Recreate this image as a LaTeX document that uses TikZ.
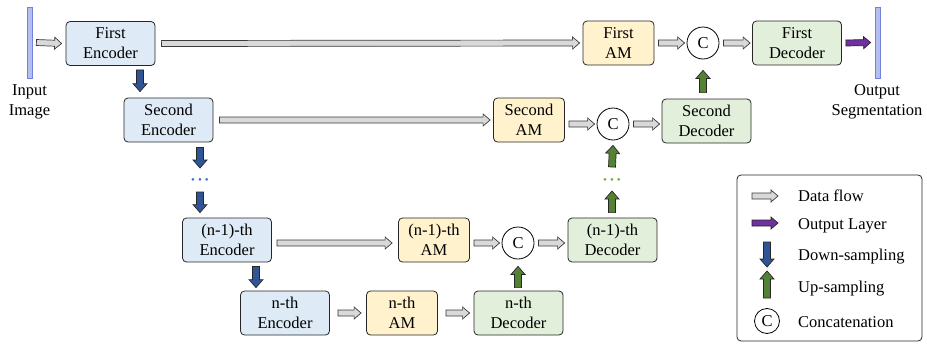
\documentclass[tikz,border=0pt]{standalone}
\usepackage{fontspec}
\setmainfont{Liberation Serif}
\usetikzlibrary{calc}
\definecolor{encfill}{HTML}{DEEBF7}
\definecolor{amfill}{HTML}{FFF2CC}
\definecolor{decfill}{HTML}{E2EFDA}
\definecolor{boxline}{HTML}{262626}
\definecolor{flowfill}{HTML}{D9D9D9}
\definecolor{flowline}{HTML}{3A3A3A}
\definecolor{downfill}{HTML}{2F5597}
\definecolor{upfill}{HTML}{548235}
\definecolor{outfill}{HTML}{7030A0}
\definecolor{barfill}{HTML}{B4BEF0}
\definecolor{barline}{HTML}{7282DA}
\definecolor{dotblue}{HTML}{4472C4}
\definecolor{dotgreen}{HTML}{70AD47}
\newcommand{\mainfs}{\fontsize{16.5}{20}\selectfont}
\newcommand{\threedots}{•\hspace{3pt}•\hspace{3pt}•}
\tikzset{
  shaftw/.store in=\shaftw, headw/.store in=\headw, headl/.store in=\headl,
  shaftw=3pt, headw=6pt, headl=7pt,
  block arrow/.style={to path={
    let \p1=($(\tikztotarget)-(\tikztostart)$), \n1={veclen(\x1,\y1)}, \n2={atan2(\y1,\x1)} in
    {[shift={(\tikztostart)}, rotate=\n2]
      (0pt,-\shaftw) -- ({\n1-\headl},-\shaftw) -- ({\n1-\headl},-\headw) -- (\n1,0pt)
      -- ({\n1-\headl},\headw) -- ({\n1-\headl},\shaftw) -- (0pt,\shaftw) -- cycle}
  }},
  flow/.style={block arrow, draw=flowline, fill=flowfill, line width=0.7pt, shaftw=3pt, headw=6pt, headl=7pt},
  outarrow/.style={block arrow, draw=black!85, fill=outfill, line width=0.7pt, shaftw=3pt, headw=6pt, headl=7pt},
  downarrow/.style={block arrow, draw=black!85, fill=downfill, line width=0.7pt, shaftw=3.5pt, headw=7pt, headl=8pt},
  uparrow/.style={block arrow, draw=black!85, fill=upfill, line width=0.7pt, shaftw=3.5pt, headw=7pt, headl=8pt},
  box/.style={draw=boxline, rounded corners=4pt, line width=0.8pt, minimum width=89pt,
    minimum height=44pt, align=center, font=\mainfs, inner sep=0pt},
  enc/.style={box, fill=encfill},
  am/.style={box, fill=amfill, minimum width=71pt},
  dec/.style={box, fill=decfill},
  cc/.style={circle, draw=black, line width=0.8pt, fill=white, minimum size=32pt, inner sep=0pt, font=\mainfs},
  bar/.style={rectangle, draw=barline, fill=barfill, line width=0.8pt, minimum width=5pt, minimum height=71pt, inner sep=0pt},
  lbl/.style={align=center, font=\mainfs, inner sep=0pt},
  legtxt/.style={anchor=base west, font=\mainfs, inner sep=0pt},
  dotsn/.style={font=\fontsize{11}{11}\selectfont, inner sep=0pt},
}
\begin{document}
\begin{tikzpicture}[x=1pt,y=-1pt]
\useasboundingbox (0,0) rectangle (927,343);
% bars and labels
\node[bar] (inbar) at (29.5,42.5) {};
\node[lbl] (inlbl) at (29.5,102) {Input\\Image};
\node[bar] (outbar) at (877.5,42.5) {};
\node[lbl] (outlbl) at (877,102) {Output\\Segmentation};
% row 1
\node[enc] (enc1) at (110.5,43.5) {First\\Encoder};
\node[am] (am1) at (618.5,43) {First\\AM};
\node[cc] (C1) at (703,43) {C};
\node[dec] (dec1) at (797,43) {First\\Decoder};
% row 2
\node[enc] (enc2) at (168.5,120) {Second\\Encoder};
\node[am] (am2) at (529,120) {Second\\AM};
\node[cc] (C2) at (613,124) {C};
\node[dec] (dec2) at (706.5,121) {Second\\Decoder};
% dots
\node[dotsn, text=dotblue] (dotsL) at (200,181) {\threedots};
\node[dotsn, text=dotgreen] (dotsR) at (612,181) {\threedots};
% row 3
\node[enc] (enc3) at (227,240) {(n-1)-th\\Encoder};
\node[am] (am3) at (434,240) {(n-1)-th\\AM};
\node[cc] (C3) at (518,243) {C};
\node[dec] (dec3) at (612.5,240) {(n-1)-th\\Decoder};
% row 4
\node[enc] (enc4) at (285,313) {n-th\\Encoder};
\node[am] (am4) at (402,313) {n-th\\AM};
\node[dec] (dec4) at (518.5,313) {n-th\\Decoder};
% horizontal flows
\draw[flow] ([xshift=4pt]inbar.east) to ([xshift=-4pt]enc1.west);
\draw[flow] ([xshift=6pt]enc1.east) to ([xshift=-3pt]am1.west);
\draw[flow] ([xshift=4pt]am1.east) to ([xshift=-2pt]C1.west);
\draw[flow] ([xshift=4pt]C1.east) to ([xshift=-2pt]dec1.west);
\draw[outarrow] ([xshift=4pt]dec1.east) to ([xshift=-4pt]outbar.west);
\draw[flow] ([xshift=6pt]enc2.east) to ([xshift=-3pt]am2.west);
\draw[flow] ([shift={(4,4)}]am2.east) to ([xshift=-2pt]C2.west);
\draw[flow] ([xshift=4pt]C2.east) to ([shift={(-2,3)}]dec2.west);
\draw[flow] ([shift={(5,3)}]enc3.east) to ([shift={(-6,3)}]am3.west);
\draw[flow] ([shift={(4,3)}]am3.east) to ([xshift=-2pt]C3.west);
\draw[flow] ([xshift=4pt]C3.east) to ([shift={(-3,3)}]dec3.west);
\draw[flow] ([xshift=8pt]enc4.east) to ([xshift=-5pt]am4.west);
\draw[flow] ([xshift=8pt]am4.east) to ([xshift=-4pt]dec4.west);
% down-sampling
\draw[downarrow] ([shift={(29.5,4)}]enc1.south) to ([shift={(-28.5,-6)}]enc2.north);
\draw[downarrow] ([shift={(31.5,5)}]enc2.south) to ([yshift=13pt]dotsL.center);
\draw[downarrow] ([yshift=-11pt]dotsL.center) to ([shift={(-27,-5)}]enc3.north);
\draw[downarrow] ([shift={(29,4)}]enc3.south) to ([shift={(-29,-3)}]enc4.north);
% up-sampling
\draw[uparrow] ([shift={(-0.5,-3)}]dec4.north) to ([yshift=-7pt]C3.south);
\draw[uparrow] ([shift={(-0.5,-5)}]dec3.north) to ([yshift=-10pt]dotsR.center);
\draw[uparrow] ([yshift=14pt]dotsR.center) to ([yshift=-5pt]C2.south);
\draw[uparrow] ([shift={(-3.5,-6)}]dec2.north) to ([yshift=-11pt]C1.south);
% legend
\node[draw=boxline, line width=0.8pt, rounded corners=4pt, minimum width=185pt, minimum height=166pt, inner sep=0pt] (leg) at (829.5,258) {};
\coordinate (l1a) at (752,196); \coordinate (l1b) at (778,196);
\coordinate (l2a) at (752,223); \coordinate (l2b) at (778,223);
\coordinate (l3a) at (767,242); \coordinate (l3b) at (767,267);
\coordinate (l4a) at (767,298); \coordinate (l4b) at (767,271);
\draw[flow] (l1a) to (l1b);
\draw[outarrow] (l2a) to (l2b);
\draw[downarrow] (l3a) to (l3b);
\draw[uparrow] (l4a) to (l4b);
\node[cc, minimum size=25pt] (lc) at (767,321) {C};
\node[legtxt] (t1) at (798,201) {Data flow};
\node[legtxt] (t2) at (798,229) {Output Layer};
\node[legtxt] (t3) at (798,260) {Down-sampling};
\node[legtxt] (t4) at (798,292) {Up-sampling};
\node[legtxt] (t5) at (798,327) {Concatenation};
\end{tikzpicture}
\end{document}
